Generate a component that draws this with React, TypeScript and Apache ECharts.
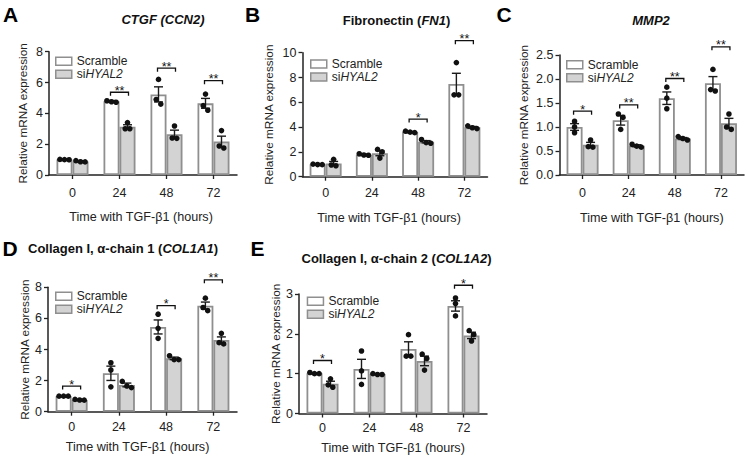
import React, { useEffect, useRef } from 'react';
import * as echarts from 'echarts';

const categories = ['0', '24', '48', '72'];

// Panel A: CTGF (CCN2)
const aScrMean = [1.0, 4.78, 5.23, 4.65];
const aScrErr = [0.02, 0.05, 0.49, 0.32];
const aScrPts = [[1.0, 1.01, 0.99], [4.82, 4.72, 4.75], [6.2, 4.6, 4.9], [5.25, 4.2, 4.5]];
const aSiMean = [0.88, 3.13, 2.65, 2.17];
const aSiErr = [0.04, 0.13, 0.26, 0.35];
const aSiPts = [[0.93, 0.85, 0.86], [3.4, 3.0, 3.0], [3.18, 2.38, 2.4], [2.88, 1.75, 1.88]];
const aBrackets = [[1, 5.37, 2], [2, 6.93, 2], [3, 6.12, 2]];

// Panel B: Fibronectin (FN1)
const bScrMean = [1.0, 1.78, 3.6, 7.47];
const bScrErr = [0.03, 0.05, 0.05, 0.87];
const bScrPts = [[1.02, 0.97, 0.98], [1.85, 1.73, 1.75], [3.67, 3.55, 3.6], [9.2, 6.6, 6.6]];
const bSiMean = [1.07, 1.9, 2.82, 3.98];
const bSiErr = [0.16, 0.21, 0.09, 0.07];
const bSiPts = [[1.4, 0.88, 0.94], [2.2, 2.0, 1.5], [3.0, 2.7, 2.75], [4.1, 3.88, 3.95]];
const bBrackets = [[2, 4.65, 1], [3, 10.97, 2]];

// Panel C: MMP2
const cScrMean = [1.0, 1.14, 1.6, 1.91];
const cScrErr = [0.07, 0.1, 0.13, 0.14];
const cScrPts = [[1.12, 1.0, 0.88], [1.27, 1.2, 0.95], [1.83, 1.6, 1.38], [2.2, 1.75, 1.78]];
const cSiMean = [0.63, 0.61, 0.76, 1.08];
const cSiErr = [0.05, 0.02, 0.02, 0.1];
const cSiPts = [[0.73, 0.58, 0.59], [0.64, 0.58, 0.6], [0.8, 0.73, 0.76], [1.27, 1.0, 0.95]];
const cBrackets = [[0, 1.33, 1], [1, 1.46, 2], [2, 2.01, 2], [3, 2.67, 2]];

// Panel D: Collagen I, alpha-chain 1 (COL1A1)
const dScrMean = [1.0, 2.47, 5.45, 6.82];
const dScrErr = [0.01, 0.46, 0.45, 0.23];
const dScrPts = [[1.0, 1.0, 1.0], [3.15, 2.68, 1.6], [6.27, 5.36, 4.72], [7.3, 6.5, 6.7]];
const dSiMean = [0.76, 1.72, 3.43, 4.61];
const dSiErr = [0.03, 0.12, 0.08, 0.2];
const dSiPts = [[0.79, 0.74, 0.75], [1.95, 1.65, 1.55], [3.6, 3.35, 3.35], [5.04, 4.44, 4.36]];
const dBrackets = [[0, 1.65, 1], [2, 6.82, 1], [3, 8.48, 2]];

// Panel E: Collagen I, alpha-chain 2 (COL1A2)
const eScrMean = [1.01, 1.12, 1.62, 2.7];
const eScrErr = [0.01, 0.24, 0.18, 0.13];
const eScrPts = [[1.03, 1.0, 1.0], [1.57, 1.07, 0.73], [1.98, 1.44, 1.44], [2.9, 2.76, 2.45]];
const eSiMean = [0.75, 0.99, 1.32, 1.96];
const eSiErr = [0.06, 0.01, 0.12, 0.08];
const eSiPts = [[0.87, 0.72, 0.66], [1.0, 0.98, 0.98], [1.49, 1.38, 1.09], [2.08, 1.98, 1.82]];
const eBrackets = [[0, 1.33, 1], [3, 3.22, 1]];

const FONT = 'Arial, "Liberation Sans", Helvetica, sans-serif';
const TXT = '#222';
const BORDER = '#8f8f8f';
const BAR_W = 16;

const panels = [
  {
    scrMean: aScrMean, scrErr: aScrErr, scrPts: aScrPts, siMean: aSiMean, siErr: aSiErr, siPts: aSiPts, brackets: aBrackets,
    max: 8, interval: 2, dec: 0,
    grid: { left: 49, top: 51.7, width: 188, height: 123.3 },
    yNameGap: 20, xNameGap: 35.5, xLabelMargin: 11.5, xNamePad: [0, 4, 0, 0],
    legend: { left: 55, top: 54.8 },
  },
  {
    scrMean: bScrMean, scrErr: bScrErr, scrPts: bScrPts, siMean: bSiMean, siErr: bSiErr, siPts: bSiPts, brackets: bBrackets,
    max: 10, interval: 2, dec: 0,
    grid: { left: 302.5, top: 52.7, width: 185, height: 124 },
    yNameGap: 27.5, xNameGap: 34.5, xLabelMargin: 10, xNamePad: [0, 12, 0, 0],
    legend: { left: 310, top: 57.5 },
  },
  {
    scrMean: cScrMean, scrErr: cScrErr, scrPts: cScrPts, siMean: cSiMean, siErr: cSiErr, siPts: cSiPts, brackets: cBrackets,
    max: 2.5, interval: 0.5, dec: 1,
    grid: { left: 559.5, top: 55, width: 184.5, height: 120 },
    yNameGap: 29.5, xNameGap: 36.5, xLabelMargin: 11.5, xNamePad: [0, 0, 0, 0],
    legend: { left: 566, top: 58.2 },
  },
  {
    scrMean: dScrMean, scrErr: dScrErr, scrPts: dScrPts, siMean: dSiMean, siErr: dSiErr, siPts: dSiPts, brackets: dBrackets,
    max: 8, interval: 2, dec: 0,
    grid: { left: 48, top: 287.3, width: 189, height: 124.4 },
    yNameGap: 17, xNameGap: 29, xLabelMargin: 9, xNamePad: [0, 10, 0, 0],
    legend: { left: 55, top: 289.8 },
  },
  {
    scrMean: eScrMean, scrErr: eScrErr, scrPts: eScrPts, siMean: eSiMean, siErr: eSiErr, siPts: eSiPts, brackets: eBrackets,
    max: 3, interval: 1, dec: 0,
    grid: { left: 299, top: 294, width: 188, height: 119.5 },
    yNameGap: 15, xNameGap: 28, xLabelMargin: 8, xNamePad: [0, 0, 0, 0],
    legend: { left: 306.7, top: 294.8 },
  },
];

function errAndPoints(offset: number) {
  return (_params: any, api: any) => {
    const cat = api.value(0);
    const mean = api.value(1);
    const err = api.value(2);
    const x = api.coord([cat, mean])[0] + offset;
    const yTop = api.coord([cat, mean + err])[1];
    const yBot = api.coord([cat, mean - err])[1];
    const ls = { stroke: '#1a1a1a', lineWidth: 1.4 };
    const children: any[] = [
      { type: 'line', shape: { x1: x, y1: yTop, x2: x, y2: yBot }, style: ls },
      { type: 'line', shape: { x1: x - 4.5, y1: yTop, x2: x + 4.5, y2: yTop }, style: ls },
      { type: 'line', shape: { x1: x - 4.5, y1: yBot, x2: x + 4.5, y2: yBot }, style: ls },
    ];
    const ys = [3, 4, 5].map((d) => api.coord([cat, api.value(d)])[1]);
    const idx = [0, 1, 2].sort((a, b) => ys[a] - ys[b]);
    const clusters: number[][] = [];
    idx.forEach((i) => {
      const last = clusters[clusters.length - 1];
      if (last && Math.abs(ys[i] - ys[last[last.length - 1]]) < 5) last.push(i);
      else clusters.push([i]);
    });
    clusters.forEach((cl) => {
      cl.forEach((i, k) => {
        const dx = (k - (cl.length - 1) / 2) * 4.6;
        children.push({ type: 'circle', shape: { cx: x + dx, cy: ys[i], r: 2.8 }, style: { fill: '#111' } });
      });
    });
    return { type: 'group', children };
  };
}

function bracketRender(_params: any, api: any) {
  const cat = api.value(0);
  const y = api.value(1);
  const n = api.value(2);
  const p = api.coord([cat, y]);
  const cx = p[0];
  const cy = p[1];
  const half = 9;
  return {
    type: 'group',
    children: [
      {
        type: 'polyline',
        shape: { points: [[cx - half, cy + 3.5], [cx - half, cy], [cx + half, cy], [cx + half, cy + 3.5]] },
        style: { stroke: '#111', lineWidth: 1.3, fill: 'none' },
      },
      {
        type: 'text',
        x: cx,
        y: cy + 5,
        style: { text: '*'.repeat(n), align: 'center', verticalAlign: 'bottom', font: `12.5px ${FONT}`, fill: '#111' },
      },
    ],
  };
}

function buildOption() {
  const grid: any[] = [];
  const xAxis: any[] = [];
  const yAxis: any[] = [];
  const legend: any[] = [];
  const series: any[] = [];
  const axisLine = { show: true, lineStyle: { color: '#222', width: 1.5 } };
  panels.forEach((p, i) => {
    grid.push({ ...p.grid });
    xAxis.push({
      type: 'category', gridIndex: i, data: categories,
      axisLine, axisTick: { show: true, alignWithLabel: true, length: 4, lineStyle: { color: '#222', width: 1.3 } },
      axisLabel: { fontSize: 12.5, color: TXT, fontFamily: FONT, margin: p.xLabelMargin },
      name: 'Time with TGF-β1 (hours)', nameLocation: 'middle', nameGap: p.xNameGap,
      nameTextStyle: { fontSize: 12.6, color: TXT, fontFamily: FONT, padding: p.xNamePad },
    });
    yAxis.push({
      type: 'value', gridIndex: i, min: 0, max: p.max, interval: p.interval,
      splitLine: { show: false }, axisLine,
      axisTick: { show: true, length: 4, lineStyle: { color: '#222', width: 1.3 } },
      axisLabel: { fontSize: 12.5, color: TXT, fontFamily: FONT, margin: 6, formatter: (v: number) => v.toFixed(p.dec) },
      name: 'Relative mRNA expression', nameLocation: 'middle', nameGap: p.yNameGap,
      nameTextStyle: { fontSize: 11.8, color: TXT, fontFamily: FONT },
    });
    legend.push({
      orient: 'vertical', left: p.legend.left, top: p.legend.top, padding: 0, itemGap: 0,
      itemWidth: 16, itemHeight: 8, icon: 'rect', selectedMode: false,
      data: ['Scramble', 'siHYAL2'],
      itemStyle: { borderColor: BORDER, borderWidth: 1.5 },
      formatter: (name: string) => (name === 'siHYAL2' ? 'si{i|HYAL2}' : name),
      textStyle: {
        fontSize: 12, lineHeight: 13, color: TXT, fontFamily: FONT,
        rich: { i: { fontSize: 12, lineHeight: 13, fontStyle: 'italic', color: TXT, fontFamily: FONT } },
      },
    });
    series.push({
      type: 'bar', name: 'Scramble', xAxisIndex: i, yAxisIndex: i, data: p.scrMean,
      barWidth: BAR_W, barGap: '0%', itemStyle: { color: '#ffffff', borderColor: BORDER, borderWidth: 1.8 },
    });
    series.push({
      type: 'bar', name: 'siHYAL2', xAxisIndex: i, yAxisIndex: i, data: p.siMean,
      barWidth: BAR_W, barGap: '0%', itemStyle: { color: '#d3d3d3', borderColor: BORDER, borderWidth: 1.8 },
    });
    series.push({
      type: 'custom', name: 'scrErr', xAxisIndex: i, yAxisIndex: i, z: 5, clip: false,
      renderItem: errAndPoints(-BAR_W / 2),
      data: categories.map((_c, k) => [k, p.scrMean[k], p.scrErr[k], ...p.scrPts[k]]),
    });
    series.push({
      type: 'custom', name: 'siErr', xAxisIndex: i, yAxisIndex: i, z: 5, clip: false,
      renderItem: errAndPoints(BAR_W / 2),
      data: categories.map((_c, k) => [k, p.siMean[k], p.siErr[k], ...p.siPts[k]]),
    });
    series.push({
      type: 'custom', name: 'sig', xAxisIndex: i, yAxisIndex: i, z: 5, clip: false,
      renderItem: bracketRender, data: p.brackets,
    });
  });

  const letter = (t: string, x: number, y: number) => ({
    type: 'text', x, y,
    style: { text: t, font: `bold 21px ${FONT}`, fill: '#000', align: 'left', verticalAlign: 'middle' },
  });
  const rich = {
    b: { fontSize: 13, fontWeight: 'bold', fontFamily: FONT, fill: '#111', color: '#111' },
    bi: { fontSize: 13, fontWeight: 'bold', fontStyle: 'italic', fontFamily: FONT, fill: '#111', color: '#111' },
  };
  const title = (t: string, x: number, y: number) => ({
    type: 'text', x, y,
    style: { text: t, rich, align: 'center', verticalAlign: 'middle', fill: '#111', font: `bold 13px ${FONT}` },
  });

  return {
    animation: false,
    backgroundColor: '#ffffff',
    grid, xAxis, yAxis, legend, series,
    graphic: [
      letter('A', 3, 14.5),
      letter('B', 245, 14.5),
      letter('C', 496.5, 14.5),
      letter('D', 2.5, 248),
      letter('E', 250.5, 248),
      title('{bi|CTGF (CCN2)}', 163, 19),
      title('{b|Fibronectin (}{bi|FN1}{b|)}', 396.5, 20),
      title('{bi|MMP2}', 651, 20),
      title('{b|Collagen I, α-chain 1 (}{bi|COL1A1}{b|)}', 123, 248),
      title('{b|Collagen I, α-chain 2 (}{bi|COL1A2}{b|)}', 396.5, 258),
    ],
  };
}

export default function App() {
  const ref = useRef<HTMLDivElement>(null);
  useEffect(() => {
    if (!ref.current) return;
    const chart = echarts.init(ref.current, undefined, { renderer: 'svg' });
    chart.setOption(buildOption() as any);
    return () => chart.dispose();
  }, []);
  return (
    <div
      ref={ref}
      style={{ position: 'fixed', left: 0, top: 0, width: 748, height: 461, background: '#fff' }}
    />
  );
}
